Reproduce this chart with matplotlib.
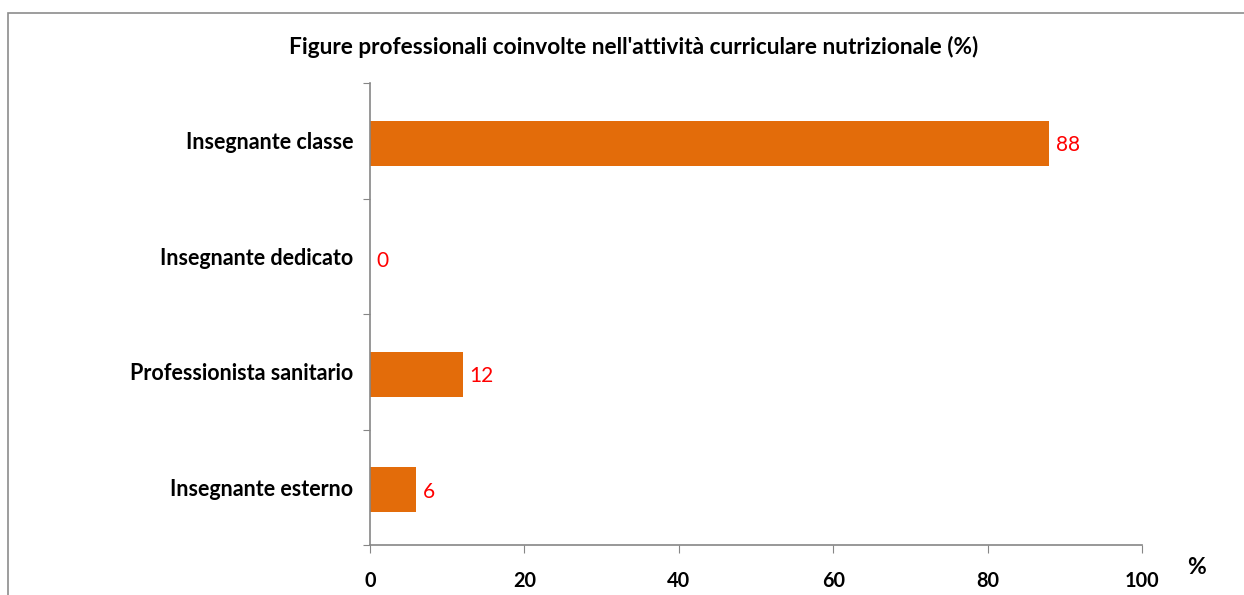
import matplotlib.pyplot as plt
from matplotlib.patches import Rectangle

plt.rcParams["font.family"] = ["Lato", "DejaVu Sans"]

categories = ["Insegnante classe", "Insegnante dedicato",
              "Professionista sanitario", "Insegnante esterno"]
values = [88, 0, 12, 6]
x_ticks = [0, 20, 40, 60, 80, 100]
title = "Figure professionali coinvolte nell'attività curriculare nutrizionale (%)"

bar_color = "#E36C0A"
axis_color = "#868686"

fig = plt.figure(figsize=(12.44, 5.95), dpi=100)
ax = fig.add_axes([370 / 1244, 1 - 545 / 595, 772 / 1244, 462 / 595])

# chart frame (runs off the right and bottom edges)
fig.patches.append(Rectangle((8 / 1244, -0.1), 1.2, 1 - 13 / 595 + 0.1,
                             transform=fig.transFigure, fill=False,
                             edgecolor="#8c8c8c", linewidth=1.2))

pos = [i + 0.5 for i in range(len(categories))]
ax.barh([p + 0.02 for p in pos], values, height=0.39, color=bar_color)
for p, v in zip(pos, values):
    ax.text(v + 0.8, p + 0.02, str(v), color="#FF0000", fontsize=15,
            va="center_baseline", ha="left")

ax.set_xlim(0, 100)
ax.set_ylim(len(categories), 0)
ax.set_xticks(x_ticks)
ax.set_xticklabels([str(t) for t in x_ticks], fontsize=14.3, fontweight="bold")
ax.set_yticks(range(len(categories) + 1))
ax.set_yticklabels([])
ax.set_yticks(pos, minor=True)
ax.set_yticklabels(categories, minor=True, fontsize=15.5, fontweight="bold")
ax.tick_params(axis="y", which="major", length=5, color=axis_color)
ax.tick_params(axis="y", which="minor", length=0, pad=12)
ax.tick_params(axis="x", length=6, color=axis_color, pad=13)

for s in ["top", "right"]:
    ax.spines[s].set_visible(False)
for s in ["left", "bottom"]:
    ax.spines[s].set_color(axis_color)
    ax.spines[s].set_linewidth(1.2)

fig.text(634 / 1244, 1 - 47 / 595, title, ha="center", va="center",
         fontsize=16.3, fontweight="bold")
fig.text(1196 / 1244, 1 - 567 / 595, "%", ha="center", va="center",
         fontsize=16.5, fontweight="bold")

fig.savefig("out.png", dpi=100)
